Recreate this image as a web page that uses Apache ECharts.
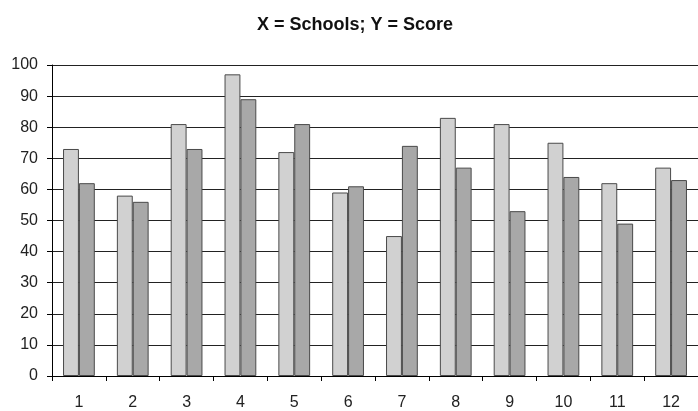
<!DOCTYPE html>
<html>
<head>
<meta charset="utf-8">
<script src="https://cdn.jsdelivr.net/npm/echarts@6/dist/echarts.min.js"></script>
<style>
  html, body { margin: 0; padding: 0; background: #fff; }
  #chart { width: 698px; height: 411px; }
</style>
</head>
<body>
<div id="chart"></div>
<script>
const schools = ['1', '2', '3', '4', '5', '6', '7', '8', '9', '10', '11', '12'];
const scoreA = [73, 58, 81, 97, 72, 59, 45, 83, 81, 75, 62, 67];
const scoreB = [62, 56, 73, 89, 81, 61, 74, 67, 53, 64, 49, 63];
const yTicks = [0, 100, 10];

const chart = echarts.init(document.getElementById('chart'));
const font = 'Liberation Sans, Arial, sans-serif';
chart.setOption({
    animation: false,
    title: {
        text: 'X = Schools; Y = Score',
        left: 252,
        top: 11,
        textStyle: { fontFamily: font, fontSize: 18, fontWeight: 'bold', color: '#111' }
    },
    grid: { left: 52, right: -3, top: 65, bottom: 33 },
    xAxis: {
        type: 'category',
        data: schools,
        axisLine: { lineStyle: { color: '#000', width: 1 } },
        axisTick: { show: true, length: 5, lineStyle: { color: '#000' } },
        axisLabel: { margin: 19, fontFamily: font, fontSize: 16, color: '#222' }
    },
    yAxis: {
        type: 'value',
        min: yTicks[0],
        max: yTicks[1],
        interval: yTicks[2],
        axisLine: { show: true, lineStyle: { color: '#000', width: 1 } },
        axisTick: { show: true, length: 5, lineStyle: { color: '#000' } },
        axisLabel: { margin: 14, fontFamily: font, fontSize: 16, color: '#222' },
        splitLine: { show: true, lineStyle: { color: '#222', width: 1 } }
    },
    series: [
        {
            type: 'bar', data: scoreA, barGap: '0%', barCategoryGap: '41%',
            itemStyle: { color: '#d1d1d1', borderColor: '#4a4a4a', borderWidth: 1 }
        },
        {
            type: 'bar', data: scoreB, barGap: '0%', barCategoryGap: '41%',
            itemStyle: { color: '#a8a8a8', borderColor: '#4a4a4a', borderWidth: 1 }
        }
    ]
});
</script>
</body>
</html>
